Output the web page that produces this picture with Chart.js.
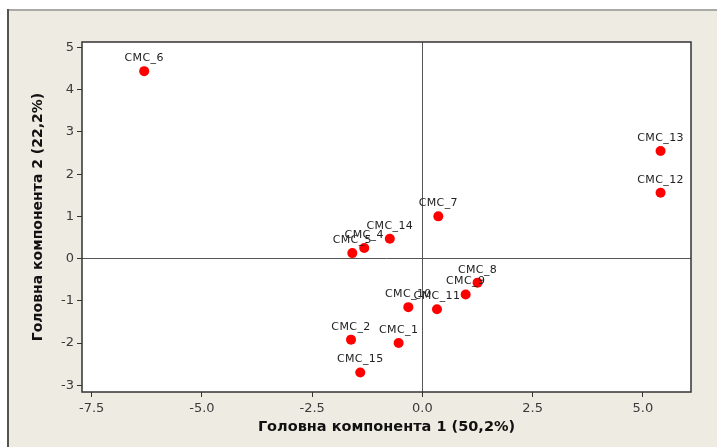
<!DOCTYPE html>
<html>
<head>
<meta charset="utf-8">
<script src="https://cdn.jsdelivr.net/npm/chart.js@4.4.1/dist/chart.umd.min.js"></script>
<style>
  html, body { margin: 0; padding: 0; background: #ffffff; }
  #wrap { width: 717px; height: 447px; position: relative; }
  canvas { display: block; }
</style>
</head>
<body>
<div id="wrap"><canvas id="c" width="717" height="447"></canvas></div>
<script>
// ---- data ----
const names = ['CMC_1','CMC_2','CMC_4','CMC_5','CMC_6','CMC_7','CMC_8','CMC_9','CMC_10','CMC_11','CMC_12','CMC_13','CMC_14','CMC_15'];
const pc1 = [-0.54, -1.62, -1.32, -1.59, -6.31, 0.36, 1.25, 0.98, -0.32, 0.33, 5.40, 5.40, -0.74, -1.41];
const pc2 = [-2.00, -1.92, 0.25, 0.13, 4.44, 1.00, -0.57, -0.85, -1.15, -1.20, 1.56, 2.55, 0.47, -2.70];
const xTitle = 'Головна компонента 1 (50,2%)';
const yTitle = 'Головна компонента 2 (22,2%)';

const points = pc1.map((x, i) => ({x: x, y: pc2[i]}));

const panelPlugin = {
  id: 'panel',
  beforeDraw(chart) {
    const ctx = chart.ctx;
    const a = chart.chartArea;
    ctx.save();
    ctx.fillStyle = '#ffffff';
    ctx.fillRect(0, 0, chart.width, chart.height);
    ctx.fillStyle = '#eeebe3';
    ctx.fillRect(8, 10, chart.width - 8, chart.height - 10);
    ctx.fillStyle = '#a9a9a6';
    ctx.fillRect(8, 9, chart.width - 8, 2);
    ctx.fillStyle = '#55554f';
    ctx.fillRect(7, 9, 2, chart.height - 9);
    ctx.fillStyle = '#ffffff';
    ctx.fillRect(a.left, a.top, a.right - a.left, a.bottom - a.top);
    ctx.restore();
  },
  afterDraw(chart) {
    const ctx = chart.ctx;
    const a = chart.chartArea;
    ctx.save();
    ctx.strokeStyle = '#333333';
    ctx.lineWidth = 1.5;
    ctx.strokeRect(a.left, a.top, a.right - a.left, a.bottom - a.top);
    // point labels
    const meta = chart.getDatasetMeta(0);
    ctx.font = '11px "DejaVu Sans"';
    ctx.fillStyle = '#222222';
    ctx.textAlign = 'center';
    ctx.textBaseline = 'middle';
    try { ctx.letterSpacing = '0.4px'; } catch (e) {}
    meta.data.forEach((el, i) => {
      ctx.fillText(names[i], el.x, el.y - 13);
    });
    ctx.restore();
  }
};

new Chart(document.getElementById('c'), {
  type: 'scatter',
  data: {
    datasets: [{
      data: points,
      backgroundColor: '#ff0000',
      borderWidth: 0,
      pointRadius: 5,
      pointHoverRadius: 5
    }]
  },
  options: {
    responsive: false,
    animation: false,
    events: [],
    layout: { padding: { top: 42, right: 26, left: 0, bottom: 0 } },
    plugins: { legend: { display: false }, tooltip: { enabled: false } },
    scales: {
      x: {
        type: 'linear',
        min: -7.72,
        max: 6.09,
        afterFit(s) { s.height = 55; },
        border: { display: false },
        grid: {
          color: c => (c.tick && c.tick.value === 0) ? '#555555' : 'rgba(0,0,0,0)',
          lineWidth: 1,
          tickColor: '#333333',
          tickLength: 5,
          drawTicks: true
        },
        ticks: {
          stepSize: 2.5,
          includeBounds: false,
          padding: 4,
          color: '#3a3a3a',
          font: { family: '"DejaVu Sans"', size: 13 },
          maxRotation: 0,
          callback: v => Number(v).toFixed(1)
        },
        title: {
          display: true,
          text: xTitle,
          color: '#111111',
          font: { family: '"DejaVu Sans"', size: 14.5, weight: 'bold' },
          padding: { top: 0, bottom: 11 }
        }
      },
      y: {
        type: 'linear',
        min: -3.16,
        max: 5.13,
        afterFit(s) { s.width = 82; },
        border: { display: false },
        grid: {
          color: c => (c.tick && c.tick.value === 0) ? '#555555' : 'rgba(0,0,0,0)',
          lineWidth: 1,
          tickColor: '#333333',
          tickLength: 5,
          drawTicks: true
        },
        ticks: {
          stepSize: 1,
          includeBounds: false,
          padding: 3,
          color: '#3a3a3a',
          font: { family: '"DejaVu Sans"', size: 13 },
          callback: v => String(v)
        },
        title: {
          display: true,
          text: yTitle,
          color: '#111111',
          font: { family: '"DejaVu Sans"', size: 14, weight: 'bold' },
          padding: { top: 30, bottom: 0 }
        }
      }
    }
  },
  plugins: [panelPlugin]
});
</script>
</body>
</html>
